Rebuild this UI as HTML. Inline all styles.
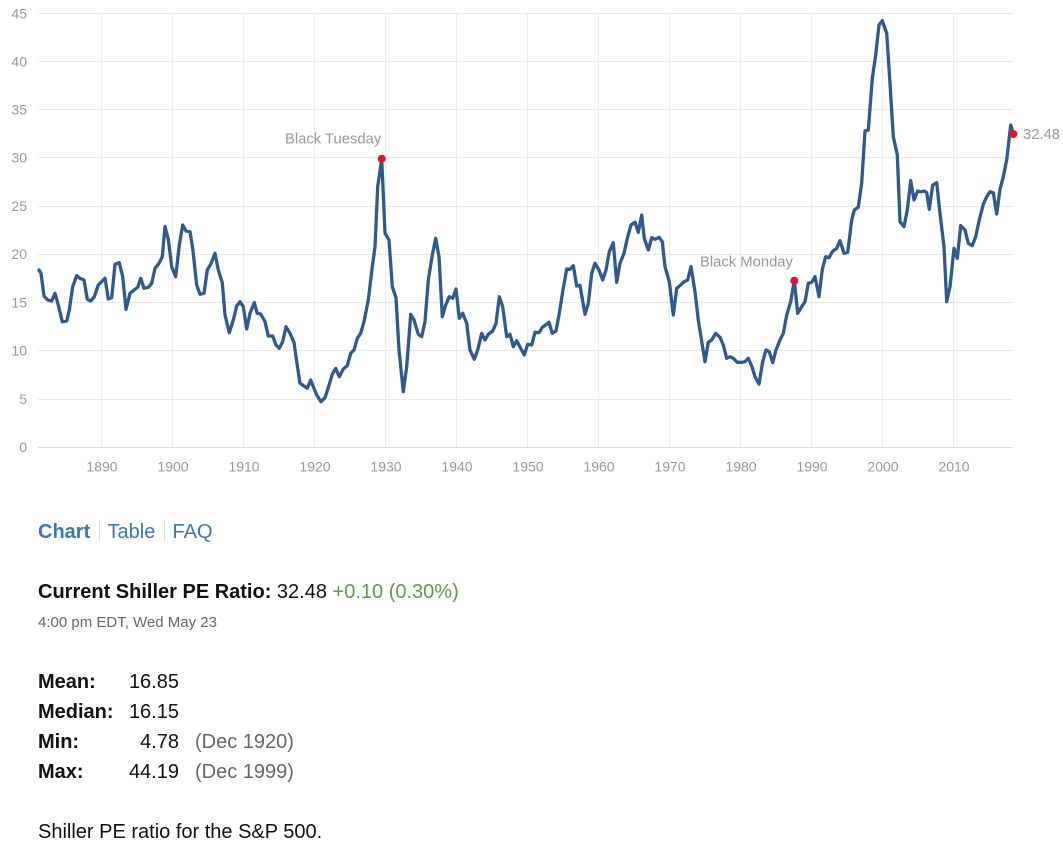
<!DOCTYPE html>
<html>
<head>
<meta charset="utf-8">
<style>
  html, body { margin: 0; padding: 0; background: #fff; }
  body { width: 1063px; height: 849px; overflow: hidden; }
  svg { display: block; font-family: "Liberation Sans", Arial, sans-serif; }
</style>
</head>
<body>
<svg width="1063" height="849" viewBox="0 0 1063 849" xmlns="http://www.w3.org/2000/svg">
  <rect width="1063" height="849" fill="#fff"/>
  <!-- horizontal gridlines -->
  <g stroke="#e9e9e9" stroke-width="1">
    <line x1="38" y1="13.5" x2="1013" y2="13.5"/>
    <line x1="38" y1="61.5" x2="1013" y2="61.5"/>
    <line x1="38" y1="109.5" x2="1013" y2="109.5"/>
    <line x1="38" y1="157.5" x2="1013" y2="157.5"/>
    <line x1="38" y1="206.5" x2="1013" y2="206.5"/>
    <line x1="38" y1="254.5" x2="1013" y2="254.5"/>
    <line x1="38" y1="302.5" x2="1013" y2="302.5"/>
    <line x1="38" y1="350.5" x2="1013" y2="350.5"/>
    <line x1="38" y1="399.5" x2="1013" y2="399.5"/>
  </g>
  <!-- vertical gridlines -->
  <g stroke="#ececec" stroke-width="1">
    <line x1="101.5" y1="13" x2="101.5" y2="447"/>
    <line x1="172.5" y1="13" x2="172.5" y2="447"/>
    <line x1="243.5" y1="13" x2="243.5" y2="447"/>
    <line x1="314.5" y1="13" x2="314.5" y2="447"/>
    <line x1="385.5" y1="13" x2="385.5" y2="447"/>
    <line x1="456.5" y1="13" x2="456.5" y2="447"/>
    <line x1="527.5" y1="13" x2="527.5" y2="447"/>
    <line x1="598.5" y1="13" x2="598.5" y2="447"/>
    <line x1="669.5" y1="13" x2="669.5" y2="447"/>
    <line x1="740.5" y1="13" x2="740.5" y2="447"/>
    <line x1="811.5" y1="13" x2="811.5" y2="447"/>
    <line x1="882.5" y1="13" x2="882.5" y2="447"/>
    <line x1="953.5" y1="13" x2="953.5" y2="447"/>
  </g>
  <line x1="38" y1="447.5" x2="1013" y2="447.5" stroke="#dcdcdc" stroke-width="1"/>

  <!-- y tick labels -->
  <g fill="#999" font-size="14" text-anchor="end">
    <text x="27" y="18.5">45</text>
    <text x="27" y="66.5">40</text>
    <text x="27" y="114.5">35</text>
    <text x="27" y="162.5">30</text>
    <text x="27" y="211">25</text>
    <text x="27" y="259">20</text>
    <text x="27" y="307.5">15</text>
    <text x="27" y="355.5">10</text>
    <text x="27" y="404">5</text>
    <text x="27" y="452">0</text>
  </g>
  <!-- x tick labels -->
  <g fill="#999" font-size="14" text-anchor="middle">
    <text x="102" y="471.5">1890</text>
    <text x="173" y="471.5">1900</text>
    <text x="244" y="471.5">1910</text>
    <text x="315" y="471.5">1920</text>
    <text x="386" y="471.5">1930</text>
    <text x="457" y="471.5">1940</text>
    <text x="528" y="471.5">1950</text>
    <text x="599" y="471.5">1960</text>
    <text x="670" y="471.5">1970</text>
    <text x="741" y="471.5">1980</text>
    <text x="812" y="471.5">1990</text>
    <text x="883" y="471.5">2000</text>
    <text x="954" y="471.5">2010</text>
  </g>

  <!-- series -->
  <polyline fill="none" stroke="#2f5a8c" stroke-width="3.3" stroke-linejoin="round" stroke-linecap="round"
    points="39,270 41,273.3 44,296 47.7,300 51.7,301 55,293.3 58.3,305 62.3,321.7 66.7,321 69.3,310 72.7,286.7 76.7,275.7 80,278.3 84,280 87.3,299.3 90.7,301 94.3,296.7 98.3,285 105,278.3 108.3,299 111.7,297.7 115,264.3 119.3,262.7 122.7,276.7 126,309.3 130,293.3 135,289.3 137.7,287.3 140.7,278.3 144,288.3 148.3,287.3 151.7,283.3 155,268.3 159,263.3 162.3,256.7 165,226.7 168.3,239.3 171.7,266.7 175.7,276.7 179.3,245 182.7,225 186,231 190,231.7 192.7,248.3 196.7,285 200,294.3 204,293.3 207.3,270 210.7,264.3 215,253.3 218.3,270 222.3,282.7 225,315 229.3,332.7 233.3,320 236.7,306 240,301.7 243.3,306.7 246.7,329 250,313.3 254.3,302.7 257.3,313.3 260.7,314 265,321.7 268.3,336 272.7,336 276,345 279.3,348.3 282.7,341.7 286,326.7 290,333.3 294,342.3 296.7,361.7 300,383.3 304,386 307.3,388.3 310.7,380 313.3,386.7 316.7,395 321,401.7 325,397.7 328.3,387.7 332.3,374.3 335.7,368.3 339.3,376.7 343.3,369 347.3,365.7 350.7,353.3 354,350 357.3,338.3 360.7,333.3 364,321.7 368.3,300 372.3,266.7 375,246.7 377.7,186.7 381.7,159 385,233.3 389,240 392.3,286.7 396,297.7 399,350 403.3,391.7 406.7,366.7 410.7,314.3 414,320 418.3,334.3 421.7,336.7 425,321.7 428.3,280 432.3,255 435.7,238.3 439,256.7 442.3,316.7 445.7,305 449.3,296.7 452.7,298.3 456,289 459.3,318.3 462.7,313.3 466.7,323.3 470,350 474.3,359.3 477.7,350 481.7,333.3 485,340 488.3,334.3 492.7,331 496,323.3 499.3,296.7 502.7,306.7 506.7,336.7 510,334.3 513.3,346.7 516.7,340.7 520.7,348.3 524.3,355 527.7,344.3 531.7,345 535,332.3 539,332.7 542.3,327.3 545.7,325 549,322.3 552.3,333.3 556,331 559.3,313.3 562.7,291.7 566.7,269 570,269.3 573.3,265.7 576.7,286 580,285.3 585,314.3 588.3,303.3 591.7,273.3 595,263.3 599,270 602.7,280 606,270 609.3,251.7 613.3,242.7 616.7,282.3 620,263.3 624,253.3 627.3,238.3 631,225 635,222.3 638.3,232.3 641.7,215 644.3,238.3 648.3,250 651.7,237.7 655,239.3 659,237.3 662.3,241.7 665,266.7 669.3,281.7 673.3,315 676.7,288.3 680.7,285 684,281.7 687.7,280 691,266.7 695,291.7 698.3,320 705,361.7 708.3,342.3 711.7,340 715.7,333.3 720,337.3 723.3,345 726.7,358.3 730,356.7 733.3,358.3 737.3,362.3 741.7,362.3 745,361.7 748.3,358.3 751.7,366 755,376.7 759,384 762.7,361.7 766,350 769.3,351.7 772.7,362.7 776,350 780,340 783.3,333.3 786.7,315 790.7,301.7 794.3,280.7 797.7,313.3 801.7,306.7 805,301.7 808.3,283.3 811.7,282.3 815,276.7 819,296.7 822.3,269.3 825.7,256.7 829,257.7 832.3,251.7 836.7,248.3 840,240.7 844,253.3 847.7,252.3 851.7,220 854.3,210 858.3,207.3 861.7,182.7 865,131 868.3,130 872.3,78.3 875.7,55 879,25 882.3,20.7 886.7,33.3 890,83.3 893.3,136.7 897.3,155 900,221.7 904,226.7 907.3,210 910.7,180.7 914,200 917.7,191 921,191.7 924.3,191 926.7,192.7 929.3,209.3 932.7,185 936.7,182.7 940,213.3 944,246.7 946.7,301.7 950,286.7 954,248.3 957.3,258.3 960.7,225.7 965,230 968.3,243.3 972.3,245.7 975.7,236.7 979,221 983.3,204.3 986.7,196.7 990,191.7 993.3,192.7 996.7,214 1000,189.3 1003.3,176.7 1006.7,160 1010.7,125 1013.3,134"/>

  <!-- markers -->
  <g fill="#e5102c">
    <circle cx="381.7" cy="158.7" r="4"/>
    <circle cx="794.3" cy="280.7" r="4"/>
    <circle cx="1013.3" cy="134" r="4"/>
  </g>
  <!-- annotations -->
  <g fill="#999" font-size="14.8">
    <text x="285" y="143.5">Black Tuesday</text>
    <text x="700" y="266.5">Black Monday</text>
    <text x="1023" y="139">32.48</text>
  </g>

  <!-- nav -->
  <text x="38" y="538" font-size="20" font-weight="bold" fill="#3a78ad">Chart</text>
  <line x1="99.5" y1="521" x2="99.5" y2="541" stroke="#dddddd" stroke-width="1"/>
  <text x="107.5" y="538" font-size="20" fill="#3a78ad">Table</text>
  <line x1="164.5" y1="521" x2="164.5" y2="541" stroke="#dddddd" stroke-width="1"/>
  <text x="172.5" y="538" font-size="20" fill="#3a78ad">FAQ</text>

  <!-- current -->
  <text x="38" y="598" font-size="20" fill="#111"><tspan font-weight="bold">Current Shiller PE Ratio:</tspan> 32.48 <tspan fill="#5b9c4b">+0.10 (0.30%)</tspan></text>
  <text x="38" y="627" font-size="15" fill="#666">4:00 pm EDT, Wed May 23</text>

  <!-- stats -->
  <g font-size="20" fill="#111">
    <text x="38" y="688" font-weight="bold">Mean:</text>
    <text x="179" y="688" text-anchor="end">16.85</text>
    <text x="38" y="718" font-weight="bold">Median:</text>
    <text x="179" y="718" text-anchor="end">16.15</text>
    <text x="38" y="748" font-weight="bold">Min:</text>
    <text x="179" y="748" text-anchor="end">4.78</text>
    <text x="195" y="748" fill="#666">(Dec 1920)</text>
    <text x="38" y="778" font-weight="bold">Max:</text>
    <text x="179" y="778" text-anchor="end">44.19</text>
    <text x="195" y="778" fill="#666">(Dec 1999)</text>
    <text x="38" y="838">Shiller PE ratio for the S&amp;P 500.</text>
  </g>
</svg>
</body>
</html>
